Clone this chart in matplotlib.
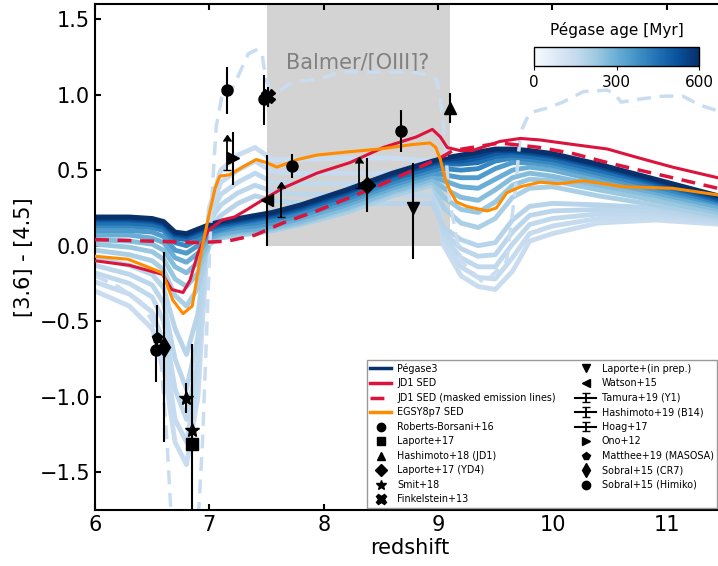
import numpy as np
import matplotlib
matplotlib.use('Agg')
import matplotlib.pyplot as plt
from matplotlib.colors import Normalize
from matplotlib.colorbar import ColorbarBase
from matplotlib.lines import Line2D

# redshift grid for the Pegase tracks
z_grid = [6.0, 6.3, 6.5, 6.6, 6.7, 6.8, 6.9, 7.0, 7.1, 7.25, 7.4, 7.55, 7.8, 8.2, 8.6,
          8.95, 9.05, 9.2, 9.35, 9.5, 9.65, 9.8, 10.0, 10.4, 10.9, 11.5]

# Pegase colour tracks, one per age (Myr)
peg_140 = [-0.30, -0.40, -0.55, -0.80, -1.30, -1.45, -1.00, 0.25, 0.50, 0.60, 0.65, 0.57, 0.57, 0.58, 0.58,
           0.56, 0.00, -0.20, -0.27, -0.29, -0.17, 0.03, 0.08, 0.15, 0.17, 0.14]
peg_150 = [-0.24, -0.32, -0.44, -0.64, -1.15, -1.30, -0.88, 0.22, 0.42, 0.50, 0.56, 0.49, 0.48, 0.48, 0.48,
           0.47, 0.03, -0.14, -0.21, -0.22, -0.08, 0.08, 0.13, 0.18, 0.19, 0.15]
peg_160 = [-0.18, -0.25, -0.34, -0.50, -0.95, -1.15, -0.75, 0.19, 0.34, 0.42, 0.48, 0.42, 0.41, 0.41, 0.41,
           0.40, 0.06, -0.08, -0.14, -0.14, 0.01, 0.14, 0.18, 0.21, 0.21, 0.16]
peg_170 = [-0.13, -0.19, -0.26, -0.38, -0.75, -0.95, -0.60, 0.16, 0.27, 0.35, 0.40, 0.36, 0.34, 0.34, 0.34,
           0.33, 0.09, -0.02, -0.07, -0.06, 0.09, 0.20, 0.23, 0.24, 0.23, 0.17]
peg_180 = [-0.08, -0.13, -0.19, -0.28, -0.55, -0.72, -0.45, 0.12, 0.20, 0.28, 0.33, 0.30, 0.28, 0.28, 0.28,
           0.28, 0.12, 0.04, 0.00, 0.02, 0.17, 0.26, 0.28, 0.27, 0.25, 0.18]
peg_200 = [-0.03, -0.06, -0.10, -0.16, -0.33, -0.40, -0.28, 0.01, 0.05, 0.07, 0.08, 0.10, 0.14, 0.22, 0.33,
           0.40, 0.25, 0.15, 0.12, 0.18, 0.32, 0.38, 0.39, 0.33, 0.27, 0.19]
peg_230 = [0.01, -0.01, -0.04, -0.09, -0.22, -0.27, -0.18, 0.02, 0.06, 0.08, 0.09, 0.11, 0.15, 0.24, 0.35,
           0.42, 0.32, 0.24, 0.22, 0.29, 0.40, 0.44, 0.43, 0.37, 0.30, 0.21]
peg_260 = [0.04, 0.03, 0.01, -0.03, -0.14, -0.18, -0.11, 0.03, 0.07, 0.09, 0.10, 0.12, 0.16, 0.25, 0.36,
           0.44, 0.38, 0.32, 0.30, 0.37, 0.45, 0.48, 0.46, 0.40, 0.33, 0.23]
peg_300 = [0.07, 0.07, 0.05, 0.02, -0.08, -0.11, -0.05, 0.05, 0.08, 0.10, 0.11, 0.13, 0.18, 0.27, 0.38,
           0.46, 0.43, 0.39, 0.38, 0.44, 0.50, 0.52, 0.50, 0.43, 0.35, 0.25]
peg_350 = [0.10, 0.10, 0.09, 0.06, -0.03, -0.05, 0.00, 0.07, 0.10, 0.12, 0.13, 0.15, 0.20, 0.29, 0.40,
           0.48, 0.47, 0.45, 0.45, 0.51, 0.55, 0.55, 0.53, 0.46, 0.37, 0.27]
peg_400 = [0.13, 0.13, 0.12, 0.10, 0.02, 0.00, 0.04, 0.09, 0.11, 0.14, 0.15, 0.17, 0.22, 0.31, 0.42,
           0.50, 0.51, 0.50, 0.51, 0.56, 0.58, 0.57, 0.55, 0.48, 0.39, 0.28]
peg_450 = [0.15, 0.15, 0.14, 0.12, 0.05, 0.04, 0.07, 0.11, 0.13, 0.15, 0.17, 0.19, 0.24, 0.33, 0.44,
           0.52, 0.54, 0.54, 0.55, 0.59, 0.60, 0.59, 0.57, 0.50, 0.41, 0.29]
peg_500 = [0.17, 0.17, 0.16, 0.14, 0.07, 0.06, 0.09, 0.12, 0.14, 0.16, 0.18, 0.20, 0.25, 0.35, 0.46,
           0.54, 0.56, 0.56, 0.58, 0.61, 0.62, 0.61, 0.59, 0.52, 0.42, 0.30]
peg_550 = [0.18, 0.18, 0.17, 0.15, 0.08, 0.07, 0.10, 0.13, 0.15, 0.17, 0.19, 0.21, 0.26, 0.36, 0.47,
           0.55, 0.57, 0.58, 0.60, 0.63, 0.63, 0.62, 0.60, 0.53, 0.43, 0.31]
peg_600 = [0.19, 0.19, 0.18, 0.16, 0.09, 0.08, 0.11, 0.14, 0.16, 0.18, 0.20, 0.22, 0.27, 0.37, 0.48,
           0.56, 0.58, 0.60, 0.62, 0.64, 0.64, 0.63, 0.61, 0.54, 0.44, 0.32]

pegase_ages = [140, 150, 160, 170, 180, 200, 230, 260, 300, 350, 400, 450, 500, 550, 600]
pegase_tracks = [peg_140, peg_150, peg_160, peg_170, peg_180, peg_200, peg_230, peg_260, peg_300,
                 peg_350, peg_400, peg_450, peg_500, peg_550, peg_600]

# youngest Pegase model (dashed)
z_young = [6.0, 6.2, 6.4, 6.5, 6.58, 6.63, 6.67, 6.9, 6.94, 6.98, 7.02, 7.06, 7.12, 7.18, 7.25, 7.34,
           7.42, 7.46, 7.49, 7.53, 7.62, 7.70, 7.79, 7.91, 8.03, 8.14, 8.29, 8.49, 8.64, 8.78, 8.91,
           8.99, 9.02, 9.05, 9.1, 9.2, 9.4, 9.6, 9.68, 9.72, 9.80, 9.95, 10.09, 10.27, 10.48, 10.55,
           10.6, 10.76, 10.97, 11.14, 11.29, 11.5]
c_young = [-0.20, -0.27, -0.37, -0.50, -0.80, -1.30, -1.85, -1.85, -1.30, -0.50, 0.30, 0.79, 1.03, 1.01,
           1.12, 1.27, 1.30, 1.27, 1.12, 1.03, 1.03, 1.07, 1.09, 1.10, 1.12, 1.15, 1.15, 1.15, 1.15,
           1.15, 1.13, 1.10, 0.97, 0.77, 0.30, -0.10, -0.25, -0.10, 0.40, 0.75, 0.88, 0.91, 0.95,
           1.02, 1.03, 1.00, 0.95, 0.97, 0.99, 0.99, 0.93, 0.88]

# JD1 SED
z_jd1 = [6.0, 6.3, 6.59, 6.67, 6.77, 6.83, 6.9, 6.99, 7.11, 7.22, 7.31, 7.46, 7.64, 7.94, 8.23, 8.52,
         8.81, 8.95, 9.02, 9.08, 9.19, 9.30, 9.54, 9.72, 9.89, 10.18, 10.48, 10.76, 11.05, 11.5]
c_jd1 = [-0.10, -0.13, -0.19, -0.29, -0.31, -0.23, -0.05, 0.10, 0.17, 0.19, 0.23, 0.30, 0.38, 0.48, 0.55,
         0.65, 0.72, 0.77, 0.72, 0.65, 0.63, 0.63, 0.69, 0.71, 0.70, 0.67, 0.64, 0.58, 0.52, 0.44]

# JD1 SED with emission lines masked
z_jd1_mask = [6.0, 6.5, 6.9, 7.16, 7.40, 7.64, 7.94, 8.23, 8.52, 8.81, 9.04, 9.13, 9.54, 9.89, 10.18,
              10.48, 10.76, 11.05, 11.5]
c_jd1_mask = [0.04, 0.03, 0.02, 0.03, 0.07, 0.15, 0.23, 0.32, 0.41, 0.51, 0.59, 0.63, 0.68, 0.65, 0.61,
              0.55, 0.50, 0.45, 0.37]

# EGSY8p7 SED
z_egs = [6.0, 6.29, 6.59, 6.68, 6.77, 6.85, 6.89, 6.94, 6.99, 7.05, 7.09, 7.18, 7.29, 7.41, 7.50, 7.59,
         7.77, 7.94, 8.20, 8.49, 8.78, 8.93, 8.98, 9.02, 9.06, 9.10, 9.16, 9.25, 9.43, 9.51, 9.60, 9.72,
         9.89, 10.06, 10.27, 10.62, 11.05, 11.5]
c_egs = [-0.07, -0.09, -0.18, -0.36, -0.45, -0.40, -0.22, 0.0, 0.18, 0.38, 0.46, 0.47, 0.52, 0.57, 0.55,
         0.52, 0.57, 0.60, 0.62, 0.64, 0.67, 0.68, 0.65, 0.57, 0.45, 0.37, 0.29, 0.26, 0.23, 0.25, 0.35,
         0.39, 0.42, 0.41, 0.43, 0.39, 0.38, 0.33]

# observed galaxies
obs_labels = ['Roberts-Borsani+16', 'Laporte+17', 'Hashimoto+18 (JD1)', 'Laporte+17 (YD4)', 'Smit+18',
              'Finkelstein+13', 'Laporte+(in prep.)', 'Watson+15', 'Ono+12', 'Matthee+19 (MASOSA)',
              'Sobral+15 (CR7)', 'Sobral+15 (Himiko)']
obs_markers = ['o', 's', '^', 'D', '*', 'X', 'v', '<', '>', 'p', 'd', 'o']
obs_z = [[7.15, 7.48, 7.72, 8.68], [6.85], [9.10], [8.38], [6.80, 6.85], [7.51], [8.78], [7.50], [7.21],
         [6.54], [6.60], [6.53]]
obs_col = [[1.03, 0.97, 0.53, 0.76], [-1.31], [0.91], [0.40], [-1.01, -1.22], [0.99], [0.25], [0.30],
           [0.58], [-0.61], [-0.67], [-0.69]]
obs_elo = [[0.16, 0.17, 0.08, 0.14], [0.70], [0.10], [0.18], [0.10, 0.0], [0.07], [0.34], [0.30],
           [0.18], [0.10], [0.63], [0.21]]
obs_ehi = [[0.15, 0.16, 0.08, 0.14], [0.66], [0.10], [0.18], [0.10, 0.0], [0.06], [0.30], [0.30],
           [0.17], [0.22], [0.63], [0.10]]

# lower limits (arrows)
lim_labels = ['Tamura+19 (Y1)', 'Hashimoto+19 (B14)', 'Hoag+17']
lim_z = [8.31, 7.15, 7.63]
lim_col = [0.38, 0.50, 0.19]
lim_len = [0.17, 0.19, 0.19]

fig = plt.figure(figsize=(7.18, 5.66), dpi=100)
ax = fig.add_axes([95 / 718, 1 - 510 / 566, (724 - 95) / 718, 506 / 566])

# Balmer/[OIII] shaded window
ax.fill_between([7.5, 9.1], 0, 2, color='lightgray', lw=0, zorder=0)
ax.text(8.3, 1.21, 'Balmer/[OIII]?', color='gray', fontsize=15, ha='center', va='center', zorder=1)

cmap = plt.get_cmap('Blues')
norm = Normalize(0, 600)
for age, track in zip(pegase_ages, pegase_tracks):
    ax.plot(z_grid, track, color=cmap(norm(age)), lw=3.5, zorder=2, solid_joinstyle='round')
ax.plot(z_young, c_young, color=cmap(norm(140)), lw=2.5, ls=(0, (4, 2.5)), zorder=2)

ax.plot(z_jd1, c_jd1, color='crimson', lw=2.2, zorder=4)
ax.plot(z_jd1_mask, c_jd1_mask, color='crimson', lw=2.5, ls=(0, (4, 2.5)), zorder=4)
ax.plot(z_egs, c_egs, color='darkorange', lw=2.2, zorder=4)

handles = [Line2D([], [], color=cmap(norm(600)), lw=2.5, label='Pégase3'),
           Line2D([], [], color='crimson', lw=2.5, label='JD1 SED'),
           Line2D([], [], color='crimson', lw=2.5, ls=(0, (4, 2.5)), label='JD1 SED (masked emission lines)'),
           Line2D([], [], color='darkorange', lw=2.5, label='EGSY8p7 SED')]

for lab, mk, zs, cs, lo, hi in zip(obs_labels, obs_markers, obs_z, obs_col, obs_elo, obs_ehi):
    ax.errorbar(zs, cs, yerr=[lo, hi], fmt='none', ecolor='k', elinewidth=1.5, zorder=5)
    ms = 10 if mk in ('*', 'd', 'X') else 8
    h, = ax.plot(zs, cs, ls='none', marker=mk, color='k', ms=ms, zorder=6, label=lab)
    handles.append(h)

for lab, zs, cs, ln in zip(lim_labels, lim_z, lim_col, lim_len):
    h = ax.errorbar([zs], [cs], yerr=[[0], [ln]], lolims=True, fmt='-', color='k', ecolor='k',
                    elinewidth=1.3, capsize=3, zorder=5, label=lab)
    handles.append(h)

# legend order as in the figure (two columns)
order = ['Pégase3', 'JD1 SED', 'JD1 SED (masked emission lines)', 'EGSY8p7 SED', 'Roberts-Borsani+16',
         'Laporte+17', 'Hashimoto+18 (JD1)', 'Laporte+17 (YD4)', 'Smit+18', 'Finkelstein+13',
         'Laporte+(in prep.)', 'Watson+15', 'Tamura+19 (Y1)', 'Hashimoto+19 (B14)', 'Hoag+17', 'Ono+12',
         'Matthee+19 (MASOSA)', 'Sobral+15 (CR7)', 'Sobral+15 (Himiko)']
by_label = {h.get_label(): h for h in handles}
leg = fig.legend([by_label[k] for k in order], order, ncol=2, fontsize=6.9, loc='upper left',
                 bbox_to_anchor=(367 / 718, 1 - 360 / 566), frameon=True, fancybox=False,
                 edgecolor='0.6', framealpha=1, labelspacing=0.47, columnspacing=2.0,
                 handlelength=2.2, handletextpad=0.6, borderpad=0.35, borderaxespad=0,
                 markerscale=0.75)
leg.set_zorder(10)

ax.set_xlim(6, 11.5)
ax.set_ylim(-1.75, 1.6)
ax.set_xticks([6, 7, 8, 9, 10, 11])
ax.set_yticks([-1.5, -1.0, -0.5, 0.0, 0.5, 1.0, 1.5])
ax.tick_params(direction='in', top=True, right=True, labelsize=15, width=1.5, length=4)
for sp in ax.spines.values():
    sp.set_linewidth(1.5)
ax.set_xlabel('redshift', fontsize=15, labelpad=2)
ax.set_ylabel('[3.6] - [4.5]', fontsize=15)

# colour bar for the Pegase ages
cax = fig.add_axes([534 / 718, 1 - 66 / 566, 165 / 718, 19 / 566])
cb = ColorbarBase(cax, cmap=cmap, norm=norm, orientation='horizontal', ticks=[0, 300, 600])
cb.outline.set_linewidth(1)
cax.tick_params(labelsize=11, length=3, direction='out')
cax.set_title('Pégase age [Myr]', fontsize=11, pad=9)

fig.savefig('out.png', dpi=100)
